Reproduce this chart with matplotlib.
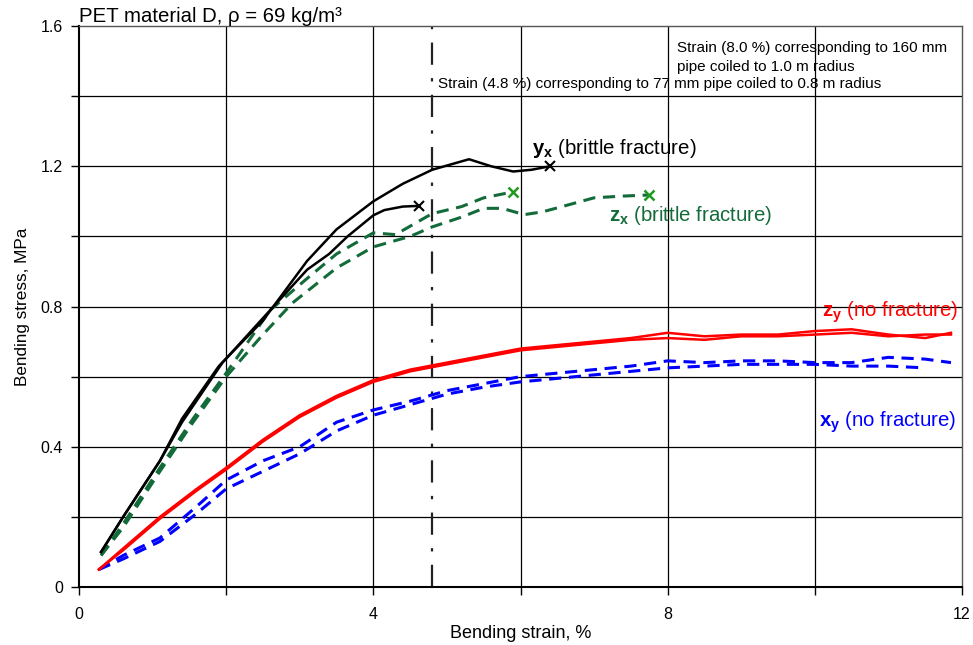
import numpy as np
import matplotlib
matplotlib.use('Agg')
import matplotlib.pyplot as plt

plt.rcParams['font.family'] = ['Liberation Sans', 'DejaVu Sans']
plt.rcParams['mathtext.fontset'] = 'custom'
plt.rcParams['mathtext.rm'] = 'Liberation Sans'
plt.rcParams['mathtext.bf'] = 'Liberation Sans:bold'

# 数据
yx_a_x = [0.3, 0.6, 1.1, 1.4, 1.9, 2.5, 3.1, 3.5, 4.0, 4.4, 4.8, 5.3, 5.6, 5.9, 6.15, 6.4]
yx_a_y = [0.10, 0.20, 0.36, 0.48, 0.63, 0.76, 0.93, 1.02, 1.10, 1.15, 1.19, 1.22, 1.20, 1.185, 1.19, 1.20]
yx_b_x = [0.3, 0.6, 1.1, 1.4, 1.95, 2.6, 3.1, 3.4, 3.65, 4.0, 4.15, 4.4, 4.62]
yx_b_y = [0.10, 0.20, 0.36, 0.47, 0.64, 0.79, 0.905, 0.95, 1.0, 1.06, 1.075, 1.085, 1.087]

zx_a_x = [0.3, 0.6, 1.1, 1.55, 2.0, 2.6, 3.1, 3.5, 4.0, 4.3, 4.8, 5.2, 5.5, 5.9]
zx_a_y = [0.09, 0.18, 0.34, 0.48, 0.61, 0.79, 0.88, 0.95, 1.01, 1.005, 1.065, 1.085, 1.11, 1.127]
zx_b_x = [0.3, 0.6, 1.1, 1.55, 2.0, 2.5, 2.9, 3.5, 4.0, 4.5, 4.8, 5.2, 5.5, 5.75, 6.05, 6.3, 6.6, 7.0, 7.4, 7.74]
zx_b_y = [0.09, 0.17, 0.33, 0.47, 0.60, 0.72, 0.81, 0.91, 0.97, 1.0, 1.027, 1.055, 1.08, 1.08, 1.062, 1.07, 1.087, 1.11, 1.115, 1.118]

strain_y = [0.27, 0.6, 1.1, 1.6, 2.0, 2.5, 3.0, 3.5, 4.0, 4.5, 5.0, 5.5, 6.0, 6.5, 7.0, 7.5, 8.0, 8.5, 9.0, 9.5, 10.0, 10.5, 11.0, 11.5, 11.85]
zy_a = [0.05, 0.11, 0.20, 0.28, 0.34, 0.42, 0.49, 0.545, 0.59, 0.62, 0.64, 0.66, 0.68, 0.69, 0.70, 0.71, 0.725, 0.715, 0.72, 0.72, 0.73, 0.735, 0.72, 0.71, 0.725]
zy_b = [0.05, 0.105, 0.195, 0.275, 0.335, 0.415, 0.485, 0.54, 0.585, 0.615, 0.635, 0.655, 0.675, 0.685, 0.695, 0.705, 0.71, 0.705, 0.715, 0.715, 0.72, 0.725, 0.715, 0.72, 0.72]

xy_a = [0.05, 0.09, 0.14, 0.23, 0.305, 0.36, 0.40, 0.47, 0.505, 0.53, 0.56, 0.58, 0.60, 0.61, 0.62, 0.63, 0.645, 0.64, 0.645, 0.645, 0.64, 0.64, 0.655, 0.65, 0.64]
xy_b = [0.05, 0.08, 0.13, 0.21, 0.28, 0.33, 0.38, 0.445, 0.49, 0.52, 0.55, 0.57, 0.585, 0.595, 0.605, 0.615, 0.625, 0.63, 0.635, 0.635, 0.635, 0.63, 0.63, 0.625, 0.63]

strain_limit = 4.8

GREEN = '#136b3a'

fig = plt.figure(figsize=(9.73, 6.45), dpi=100)
ax = fig.add_axes([0.0812, 0.0899, 0.9075, 0.8698])

# 网格
for gx in [2, 4, 6, 8, 10]:
    ax.axvline(gx, color='black', lw=0.9, zorder=1)
for gy in np.arange(0.2, 1.6, 0.2):
    ax.axhline(gy, color='black', lw=0.9, zorder=1)

ax.axvline(strain_limit, color='#222222', lw=1.6, ls=(0, (10, 6, 1.5, 6)), zorder=2)

# 曲线
ax.plot(strain_y, xy_a, color='blue', lw=2.2, ls=(0, (4, 2.5)), zorder=3)
ax.plot(strain_y[:-1], xy_b[:-1], color='blue', lw=2.2, ls=(0, (4, 2.5)), zorder=3)
ax.plot(strain_y, zy_a, color='red', lw=1.8, zorder=3)
ax.plot(strain_y, zy_b, color='red', lw=1.8, zorder=3)

ax.plot(zx_a_x, zx_a_y, color=GREEN, lw=2.2, ls=(0, (4, 2.5)), zorder=4)
ax.plot(zx_b_x, zx_b_y, color=GREEN, lw=2.2, ls=(0, (4, 2.5)), zorder=4)
ax.plot([zx_a_x[-1], zx_b_x[-1]], [zx_a_y[-1], zx_b_y[-1]], ls='none', marker='x',
        ms=7, mew=1.8, color='#1f9a1f', zorder=5)

ax.plot(yx_a_x, yx_a_y, color='black', lw=1.8, zorder=4)
ax.plot(yx_b_x, yx_b_y, color='black', lw=1.8, zorder=4)
ax.plot([yx_a_x[-1], yx_b_x[-1]], [yx_a_y[-1], yx_b_y[-1]], ls='none', marker='x',
        ms=7, mew=1.5, color='black', zorder=5)

# 坐标轴
ax.set_xlim(0, 12)
ax.set_ylim(0, 1.6)
ax.set_xticks(np.arange(0, 12.1, 2))
ax.set_xticklabels(['0', '', '4', '', '8', '', '12'])
ax.set_yticks(np.round(np.arange(0, 1.61, 0.2), 1))
ax.set_yticklabels(['0', '', '0.4', '', '0.8', '', '1.2', '', '1.6'])
ax.tick_params(direction='out', length=5.5, width=1, labelsize=11.5)
ax.tick_params(axis='x', pad=9)
ax.tick_params(axis='y', pad=6)
for s in ['left', 'bottom']:
    ax.spines[s].set_linewidth(1.5)
for s in ['top', 'right']:
    ax.spines[s].set_linewidth(1.0)
    ax.spines[s].set_color('#555555')

ax.set_xlabel('Bending strain, %', fontsize=13, labelpad=2)
ax.set_ylabel('Bending stress, MPa', fontsize=12.3, labelpad=8)
ax.set_title('PET material D, \u03c1 = 69 kg/m\u00b3', fontsize=14.7, loc='left', pad=3, x=0.0)

# 标注
ax.text(8.13, 1.556, 'Strain (8.0 %) corresponding to 160 mm\npipe coiled to 1.0 m radius',
        fontsize=11, va='top', ha='left', linespacing=1.4)
ax.text(4.88, 1.434, 'Strain (4.8 %) corresponding to 77 mm pipe coiled to 0.8 m radius',
        fontsize=11, va='center', ha='left')

ax.text(6.15, 1.25, r'$\mathbf{y_x}$ (brittle fracture)', fontsize=14.7, color='black', va='center')
ax.text(7.2, 1.06, r'$\mathbf{z_x}$ (brittle fracture)', fontsize=14.7, color=GREEN, va='center')
ax.text(10.1, 0.784, r'$\mathbf{z_y}$ (no fracture)', fontsize=14.7, color='red', va='center')
ax.text(10.06, 0.47, r'$\mathbf{x_y}$ (no fracture)', fontsize=14.7, color='blue', va='center')

plt.savefig('out.png', dpi=100)
plt.close()
